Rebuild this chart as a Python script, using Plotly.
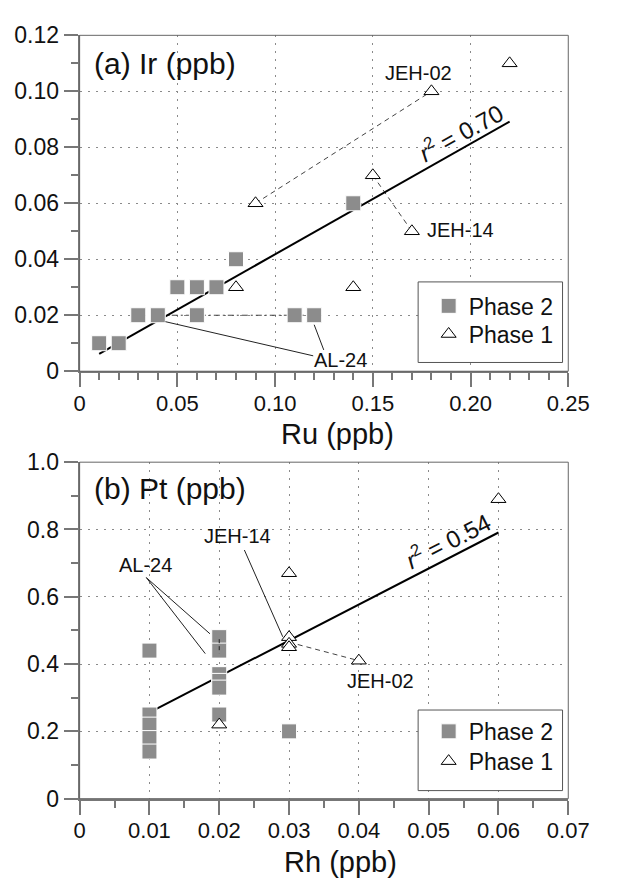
import plotly.graph_objects as go

# ---------------- data ----------------
# (a) Ir vs Ru
ru_phase2 = [0.01, 0.02, 0.03, 0.04, 0.05, 0.06, 0.06, 0.07, 0.08, 0.11, 0.12, 0.14]
ir_phase2 = [0.01, 0.01, 0.02, 0.02, 0.03, 0.03, 0.02, 0.03, 0.04, 0.02, 0.02, 0.06]
ru_phase1 = [0.08, 0.09, 0.14, 0.15, 0.17, 0.18, 0.22]
ir_phase1 = [0.03, 0.06, 0.03, 0.07, 0.05, 0.10, 0.11]
ru_fit = [0.01, 0.22]
ir_fit = [0.0062, 0.0892]
ru_jeh02 = [0.09, 0.18]
ir_jeh02 = [0.06, 0.10]
ru_jeh14 = [0.15, 0.17]
ir_jeh14 = [0.07, 0.05]
ru_al24 = [0.04, 0.12]
ir_al24 = [0.02, 0.02]

# (b) Pt vs Rh
rh_phase2 = [0.01, 0.01, 0.01, 0.01, 0.01, 0.02, 0.02, 0.02, 0.02, 0.02, 0.02, 0.03]
pt_phase2 = [0.44, 0.25, 0.22, 0.18, 0.14, 0.48, 0.44, 0.37, 0.35, 0.33, 0.25, 0.20]
rh_phase1 = [0.02, 0.03, 0.03, 0.03, 0.03, 0.04, 0.06]
pt_phase1 = [0.22, 0.67, 0.48, 0.46, 0.45, 0.41, 0.89]
rh_fit = [0.011, 0.06]
pt_fit = [0.267, 0.791]
rh_jeh02 = [0.03, 0.04]
pt_jeh02 = [0.465, 0.41]
rh_al24 = [0.02, 0.02]
pt_al24 = [0.474, 0.432]

# tick labels
ru_ticks = [0, 0.05, 0.10, 0.15, 0.20, 0.25]
ru_ticktext = ["0", "0.05", "0.10", "0.15", "0.20", "0.25"]
ir_ticks = [0, 0.02, 0.04, 0.06, 0.08, 0.10, 0.12]
ir_ticktext = ["0", "0.02", "0.04", "0.06", "0.08", "0.10", "0.12"]
rh_ticks = [0, 0.01, 0.02, 0.03, 0.04, 0.05, 0.06, 0.07]
rh_ticktext = ["0", "0.01", "0.02", "0.03", "0.04", "0.05", "0.06", "0.07"]
pt_ticks = [0, 0.2, 0.4, 0.6, 0.8, 1.0]
pt_ticktext = ["0", "0.2", "0.4", "0.6", "0.8", "1.0"]

# ---------------- layout helpers ----------------
W, H = 617, 890
FONT = "Liberation Sans, Arial, Helvetica, sans-serif"


def px(x):
    return x / W


def py(y):
    return 1 - y / H


SQ_COLOR = "#8c8c8c"
AX_COLOR = "#777777"

fig = go.Figure()


def add_panel(xa, ya, leg2, leg1, x2, y2, x1, y1, fitx, fity, dashed, dashdot):
    for (lx, ly) in dashed:
        fig.add_trace(go.Scatter(x=lx, y=ly, mode="lines", xaxis=xa, yaxis=ya,
                                 line=dict(color="#444444", width=1, dash="5px,4px"),
                                 showlegend=False, hoverinfo="skip"))
    for (lx, ly) in dashdot:
        fig.add_trace(go.Scatter(x=lx, y=ly, mode="lines", xaxis=xa, yaxis=ya,
                                 line=dict(color="#444444", width=1, dash="6px,3px,2px,3px"),
                                 showlegend=False, hoverinfo="skip"))
    fig.add_trace(go.Scatter(x=fitx, y=fity, mode="lines", xaxis=xa, yaxis=ya,
                             line=dict(color="black", width=2),
                             showlegend=False, hoverinfo="skip"))
    fig.add_trace(go.Scatter(x=x2, y=y2, mode="markers", name="Phase 2",
                             xaxis=xa, yaxis=ya, legend=leg2,
                             marker=dict(symbol="square", size=15, color=SQ_COLOR,
                                         line=dict(color="white", width=1))))
    fig.add_trace(go.Scatter(x=x1, y=y1, mode="markers", name="Phase 1",
                             xaxis=xa, yaxis=ya, legend=leg1,
                             marker=dict(symbol="triangle-up", size=13, color="white",
                                         line=dict(color="black", width=1))))


add_panel("x", "y", "legend", "legend3", ru_phase2, ir_phase2, ru_phase1, ir_phase1,
          ru_fit, ir_fit, [(ru_jeh02, ir_jeh02), (ru_jeh14, ir_jeh14)], [(ru_al24, ir_al24)])
add_panel("x2", "y2", "legend2", "legend4", rh_phase2, pt_phase2, rh_phase1, pt_phase1,
          rh_fit, pt_fit, [(rh_jeh02, pt_jeh02)], [])
fig.add_trace(go.Scatter(x=rh_al24, y=pt_al24, mode="lines", xaxis="x2", yaxis="y2",
                         line=dict(color="#222222", width=1, dash="4px,3px"),
                         showlegend=False, hoverinfo="skip"))


def axis(domain, anchor, tickvals, ticktext, rng, minor_dtick, fsize, standoff=0):
    return dict(domain=domain, anchor=anchor, range=rng, tickmode="array",
                tickvals=tickvals, ticktext=ticktext,
                showline=True, linecolor=AX_COLOR, linewidth=2, mirror=False,
                ticks="outside", ticklen=14, tickwidth=1.5, tickcolor=AX_COLOR,
                ticklabelstandoff=standoff,
                minor=dict(tickmode="linear", tick0=0, dtick=minor_dtick,
                           ticks="outside", ticklen=7, tickwidth=1.5,
                           tickcolor=AX_COLOR, showgrid=False),
                showgrid=True, gridcolor="#8a8a8a", gridwidth=1, griddash="2px,6px",
                zeroline=False, tickfont=dict(family=FONT, size=fsize, color="#111111"),
                fixedrange=True)


def legend_at(x, y):
    return dict(x=px(x), y=py(y), xanchor="left", yanchor="middle",
                bgcolor="rgba(0,0,0,0)", borderwidth=0,
                font=dict(family=FONT, size=23, color="#111111"))


xdom = [px(77), px(588)]
ydom_a = [py(369), py(23)]
ydom_b = [py(809.3), py(462.7)]

fig.update_layout(
    width=W, height=H,
    margin=dict(l=0, r=0, t=0, b=0),
    paper_bgcolor="white", plot_bgcolor="white",
    font=dict(family=FONT, color="#111111"),
    xaxis=axis(xdom, "y", ru_ticks, ru_ticktext, [0, 0.25], 0.01, 22, -3),
    yaxis=axis(ydom_a, "x", ir_ticks, ir_ticktext, [0, 0.12], 0.01, 23),
    xaxis2=axis(xdom, "y2", rh_ticks, rh_ticktext, [0, 0.07], 0.005, 22, -3),
    yaxis2=axis(ydom_b, "x2", pt_ticks, pt_ticktext, [0, 1.0], 0.1, 23),
    legend=legend_at(442, 301.7),
    legend3=legend_at(442, 330.7),
    legend2=legend_at(442, 740),
    legend4=legend_at(442, 770.7),
    showlegend=True,
)

shapes = []
for (ya0, ya1) in (ydom_a, ydom_b):
    shapes.append(dict(type="rect", xref="paper", yref="paper",
                       x0=xdom[0], x1=xdom[1], y0=ya0, y1=ya1,
                       line=dict(color="#666666", width=1), layer="above"))
for (t, b) in ((277, 360), (718, 801)):
    shapes.append(dict(type="rect", xref="paper", yref="paper",
                       x0=px(431), x1=px(582), y0=py(b), y1=py(t),
                       line=dict(color="#555555", width=1), fillcolor="white",
                       layer="above"))
for (x0, y0, x1, y1) in ((0.0439, 0.0177, 0.1195, 0.0055), (0.1200, 0.0166, 0.1249, 0.0076)):
    shapes.append(dict(type="line", xref="x", yref="y", x0=x0, y0=y0, x1=x1, y1=y1,
                       line=dict(color="#222222", width=1)))
for (x0, y0, x1, y1) in ((0.0236, 0.739, 0.0291, 0.481),
                         (0.00955, 0.657, 0.01867, 0.490),
                         (0.00955, 0.657, 0.0180, 0.431)):
    shapes.append(dict(type="line", xref="x2", yref="y2", x0=x0, y0=y0, x1=x1, y1=y1,
                       line=dict(color="#222222", width=1)))
fig.update_layout(shapes=shapes)


def text(x, y, s, size, xanchor="center", angle=0):
    return dict(xref="paper", yref="paper", x=px(x), y=py(y), text=s, showarrow=False,
                xanchor=xanchor, yanchor="middle", textangle=angle,
                font=dict(family=FONT, size=size, color="#111111"))


annots = [
    text(90, 51.7, "(a) Ir (ppb)", 30, "left"),
    text(90, 490, "(b) Pt (ppb)", 30, "left"),
    text(346.7, 434, "Ru (ppb)", 29),
    text(350, 875, "Rh (ppb)", 29),
    text(431.7, 61.7, "JEH-02", 20),
    text(438, 224, "JEH-14", 20, "left"),
    text(350, 357, "AL-24", 20),
    text(242, 539, "JEH-14", 20),
    text(146, 568.3, "AL-24", 20),
    text(391.7, 688.3, "JEH-02", 20),
    text(475, 123, "<i>r</i><sup>2</sup> = 0.70", 24, angle=-29),
    text(462, 543, "<i>r</i><sup>2</sup> = 0.54", 24, angle=-27),
]
fig.update_layout(annotations=annots)

fig.write_html("out.html")
